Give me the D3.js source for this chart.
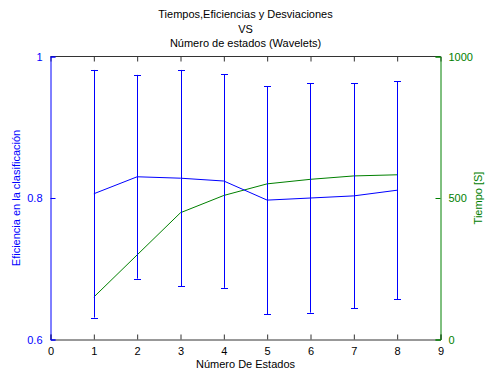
<!DOCTYPE html>
<html>
<head>
<meta charset="utf-8">
<script src="https://cdn.jsdelivr.net/npm/d3@7"></script>
<style>
  body { margin: 0; background: #fff; }
  svg text { font-family: "Liberation Sans", Arial, sans-serif; font-size: 11px; }
</style>
</head>
<body>
<svg id="chart" width="485" height="374"></svg>
<script>
// Number of states
const estados = [1, 2, 3, 4, 5, 6, 7, 8];
// Classification efficiency (mean) and its deviation
const eficiencia = [0.806, 0.830, 0.828, 0.824, 0.797, 0.800, 0.803, 0.811];
const desviacion = [0.175, 0.144, 0.153, 0.151, 0.161, 0.162, 0.159, 0.154];
// Processing time [s]
const tiempo = [150, 299, 448, 509, 550, 566, 578, 582];

const xTicks = [0, 1, 2, 3, 4, 5, 6, 7, 8, 9];
const yLeftTicks = [0.6, 0.8, 1];
const yRightTicks = [0, 500, 1000];

const titleLines = ["Tiempos,Eficiencias y Desviaciones", "VS", "Número de estados (Wavelets)"];

const BLUE = "#0000ff", GREEN = "#008000", AXIS = "#333";
const m = { left: 50.5, right: 440.5, top: 56.5, bottom: 339.5 };

const svg = d3.select("#chart");
const x = d3.scaleLinear().domain([0, 9]).range([m.left, m.right]);
const yL = d3.scaleLinear().domain([0.6, 1]).range([m.bottom, m.top]);
const yR = d3.scaleLinear().domain([0, 1000]).range([m.bottom, m.top]);

// Title
svg.append("g").selectAll("text").data(titleLines).join("text")
  .attr("x", (m.left + m.right) / 2)
  .attr("y", (d, i) => 18 + i * 14.5)
  .attr("text-anchor", "middle")
  .attr("fill", "#000")
  .text(d => d);

// Box frame (top edge)
svg.append("line")
  .attr("x1", m.left).attr("x2", m.right).attr("y1", m.top).attr("y2", m.top)
  .attr("stroke", AXIS);

// Bottom axis, ticks pointing inward
const xAxis = svg.append("g").attr("transform", `translate(0,${m.bottom})`)
  .call(d3.axisBottom(x).tickValues(xTicks).tickSize(-5).tickPadding(8).tickFormat(d3.format("d")));
xAxis.select(".domain").attr("stroke", AXIS);
xAxis.selectAll(".tick line").attr("stroke", AXIS);
xAxis.selectAll("text").attr("fill", "#000").attr("font-size", 11).attr("font-family", "Liberation Sans, Arial, sans-serif");

// Top ticks
const xTop = svg.append("g").attr("transform", `translate(0,${m.top})`)
  .call(d3.axisTop(x).tickValues(xTicks).tickSize(-5).tickFormat(""));
xTop.select(".domain").remove();
xTop.selectAll(".tick line").attr("stroke", AXIS);

// Left axis (efficiency)
const yAxisL = svg.append("g").attr("transform", `translate(${m.left},0)`)
  .call(d3.axisLeft(yL).tickValues(yLeftTicks).tickSize(-5).tickPadding(8).tickFormat(d => d === 1 ? "1" : d3.format(".1f")(d)));
yAxisL.select(".domain").attr("stroke", BLUE);
yAxisL.selectAll(".tick line").attr("stroke", BLUE);
yAxisL.selectAll("text").attr("fill", BLUE).attr("font-size", 11).attr("font-family", "Liberation Sans, Arial, sans-serif");

// Right axis (time)
const yAxisR = svg.append("g").attr("transform", `translate(${m.right},0)`)
  .call(d3.axisRight(yR).tickValues(yRightTicks).tickSize(-5).tickPadding(8).tickFormat(d3.format("d")));
yAxisR.select(".domain").attr("stroke", GREEN);
yAxisR.selectAll(".tick line").attr("stroke", GREEN);
yAxisR.selectAll("text").attr("fill", GREEN).attr("font-size", 11).attr("font-family", "Liberation Sans, Arial, sans-serif");

// Axis labels
svg.append("text")
  .attr("x", (m.left + m.right) / 2).attr("y", 368)
  .attr("text-anchor", "middle").attr("fill", "#000")
  .text("Número De Estados");

svg.append("text")
  .attr("transform", `translate(20,${(m.top + m.bottom) / 2}) rotate(-90)`)
  .attr("text-anchor", "middle").attr("fill", BLUE)
  .text("Eficiencia en la clasificación");

svg.append("text")
  .attr("transform", `translate(482,${(m.top + m.bottom) / 2}) rotate(-90)`)
  .attr("text-anchor", "middle").attr("fill", GREEN)
  .text("Tiempo [S]");

// Time series
svg.append("path")
  .datum(estados.map((e, i) => [e, tiempo[i]]))
  .attr("fill", "none").attr("stroke", GREEN).attr("stroke-width", 1)
  .attr("d", d3.line().x(d => x(d[0])).y(d => yR(d[1])));

// Efficiency series with error bars
const eb = svg.append("g").attr("stroke", BLUE).attr("stroke-width", 1).attr("fill", "none");
const pts = estados.map((e, i) => ({ e, v: eficiencia[i], s: desviacion[i] }));
eb.selectAll("line.v").data(pts).join("line").attr("class", "v")
  .attr("x1", d => Math.round(x(d.e)) + 0.5).attr("x2", d => Math.round(x(d.e)) + 0.5)
  .attr("y1", d => yL(d.v - d.s)).attr("y2", d => yL(d.v + d.s));
["lo", "hi"].forEach(k => {
  eb.selectAll("line." + k).data(pts).join("line").attr("class", k)
    .attr("x1", d => Math.round(x(d.e)) - 3).attr("x2", d => Math.round(x(d.e)) + 4)
    .attr("y1", d => Math.round(yL(k === "lo" ? d.v - d.s : d.v + d.s)) + 0.5)
    .attr("y2", d => Math.round(yL(k === "lo" ? d.v - d.s : d.v + d.s)) + 0.5);
});
eb.append("path").datum(pts)
  .attr("d", d3.line().x(d => x(d.e)).y(d => yL(d.v)));
</script>
</body>
</html>
